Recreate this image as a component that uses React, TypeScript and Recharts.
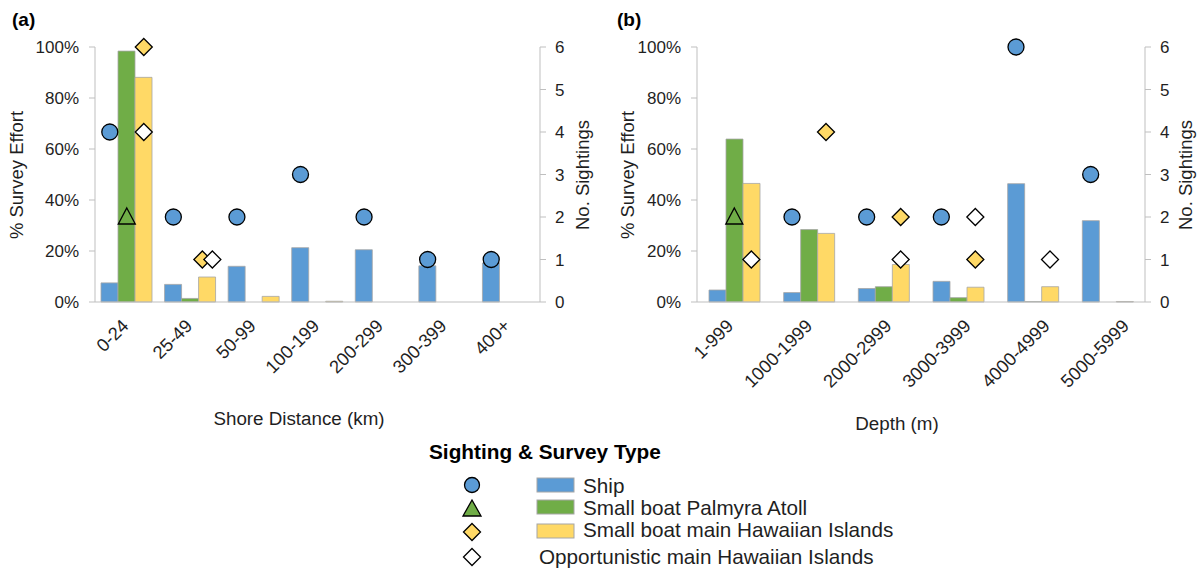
import React from 'react';
import { ComposedChart, Bar, Scatter, XAxis, YAxis } from 'recharts';

// (a) shore distance bins
const shoreBins = ['0-24', '25-49', '50-99', '100-199', '200-299', '300-399', '400+'];
const shoreShipEffort = [7.5, 6.9, 14, 21.3, 20.5, 14.2, 15.3];
const shorePalmyraEffort = [98.4, 1.4, 0, 0, 0, 0, 0];
const shoreMhiEffort = [88.1, 9.8, 2.2, 0.3, 0, 0, 0];
const shoreShipSightings = [4, 2, 2, 3, 2, 1, 1];
const shorePalmyraSightings = [2, null, null, null, null, null, null];
const shoreMhiSightings = [6, 1, null, null, null, null, null];
const shoreOppSightings = [4, 1, null, null, null, null, null];

// (b) depth bins
const depthBins = ['1-999', '1000-1999', '2000-2999', '3000-3999', '4000-4999', '5000-5999'];
const depthShipEffort = [4.7, 3.7, 5.3, 8.1, 46.4, 31.9];
const depthPalmyraEffort = [63.9, 28.4, 6.0, 1.7, 0.2, 0];
const depthMhiEffort = [46.5, 26.9, 14.7, 5.8, 6.0, 0.2];
const depthShipSightings = [null, 2, 2, 2, 6, 3];
const depthPalmyraSightings = [2, null, null, null, null, null];
const depthMhiSightings = [null, 4, 2, 1, null, null];
const depthOppSightings = [1, null, 1, 2, 1, null];

const effortTicks = [0, 20, 40, 60, 80, 100];
const sightingTicks = [0, 1, 2, 3, 4, 5, 6];

const BLUE = '#5B9BD5';
const GREEN = '#70AD47';
const YELLOW = '#FFD966';
const AXIS = '#bfbfbf';
const INK = '#1f1f1f';
const FONT = '"Liberation Sans", Arial, sans-serif';
const BAR_W = 17;

function buildRows(bins: string[], e1: number[], e2: number[], e3: number[],
  s1: (number | null)[], s2: (number | null)[], s3: (number | null)[], s4: (number | null)[]) {
  return bins.map((name, i) => ({
    name,
    ship: e1[i], palmyra: e2[i], mhi: e3[i],
    sShip: s1[i], sPalmyra: s2[i], sMhi: s3[i], sOpp: s4[i],
  }));
}

const shoreRows = buildRows(shoreBins, shoreShipEffort, shorePalmyraEffort, shoreMhiEffort,
  shoreShipSightings, shorePalmyraSightings, shoreMhiSightings, shoreOppSightings);
const depthRows = buildRows(depthBins, depthShipEffort, depthPalmyraEffort, depthMhiEffort,
  depthShipSightings, depthPalmyraSightings, depthMhiSightings, depthOppSightings);

function Glyph({ kind, x, y, big }: { kind: string; x: number; y: number; big?: boolean }) {
  if (kind === 'circle') return <circle cx={x} cy={y} r={big ? 8 : 7.5} fill={BLUE} stroke="#000" strokeWidth={1.3} />;
  if (kind === 'triangle') {
    const w = big ? 8.5 : 9;
    return <polygon points={`${x},${y - 9} ${x + w},${y + 7} ${x - w},${y + 7}`} fill={GREEN} stroke="#000" strokeWidth={1.3} />;
  }
  const fill = kind === 'diamond' ? YELLOW : '#fff';
  return <polygon points={`${x},${y - 8.5} ${x + 8.5},${y} ${x},${y + 8.5} ${x - 8.5},${y}`} fill={fill} stroke="#000" strokeWidth={1.3} />;
}

// scatter marker sitting over its matching bar
const marker = (kind: string, key: string, slot: number) => (props: any) => {
  const { cx, cy, payload } = props;
  if (!payload || payload[key] == null || cx == null || cy == null) return <g />;
  let dx = slot * BAR_W;
  if (payload.sMhi != null && payload.sMhi === payload.sOpp) {
    if (key === 'sMhi') dx -= 5;
    if (key === 'sOpp') dx += 5;
  }
  return <Glyph kind={kind} x={cx + dx} y={cy} big />;
};

const xTick = (base: number, drift: number) => (props: any) => {
  const { x, y, payload, index } = props;
  return (
    <g transform={`translate(${x + base + drift * index},${y + 25})`}>
      <text textAnchor="end" transform="rotate(-45)" fontSize={18.3} fill={INK} fontFamily={FONT}>
        {payload.value}
      </text>
    </g>
  );
};

function Panel({ rows, width, leftW, rightMargin, base, drift }: any) {
  return (
    <ComposedChart width={width} height={440} data={rows} barGap={0} barSize={BAR_W}
      margin={{ top: 47, right: rightMargin, left: 0, bottom: 0 }}>
      <XAxis dataKey="name" height={138} stroke={AXIS} tickLine={false} tickSize={0} tickMargin={0}
        interval={0} tick={xTick(base, drift)} />
      <YAxis yAxisId="left" width={leftW} domain={[0, 100]} ticks={effortTicks} stroke={AXIS}
        tickSize={6} tickMargin={10} tickFormatter={(v: number) => `${v}%`}
        tick={{ fontSize: 17, fill: INK, fontFamily: FONT }} />
      <YAxis yAxisId="right" orientation="right" width={50} domain={[0, 6]} ticks={sightingTicks}
        stroke={AXIS} tickSize={6} tickMargin={9}
        tick={{ fontSize: 17, fill: INK, fontFamily: FONT }} />
      <Bar yAxisId="left" dataKey="ship" fill={BLUE} stroke="#a6a6a6" strokeWidth={0.8} isAnimationActive={false} />
      <Bar yAxisId="left" dataKey="palmyra" fill={GREEN} stroke="#a6a6a6" strokeWidth={0.8} isAnimationActive={false} />
      <Bar yAxisId="left" dataKey="mhi" fill={YELLOW} stroke="#a6a6a6" strokeWidth={0.8} isAnimationActive={false} />
      <Scatter yAxisId="right" dataKey="sShip" shape={marker('circle', 'sShip', -1)} isAnimationActive={false} />
      <Scatter yAxisId="right" dataKey="sPalmyra" shape={marker('triangle', 'sPalmyra', 0)} isAnimationActive={false} />
      <Scatter yAxisId="right" dataKey="sMhi" shape={marker('diamond', 'sMhi', 1)} isAnimationActive={false} />
      <Scatter yAxisId="right" dataKey="sOpp" shape={marker('open', 'sOpp', 1)} isAnimationActive={false} />
    </ComposedChart>
  );
}

const legendItems = [
  { glyph: 'circle', color: BLUE, label: 'Ship' },
  { glyph: 'triangle', color: GREEN, label: 'Small boat Palmyra Atoll' },
  { glyph: 'diamond', color: YELLOW, label: 'Small boat main Hawaiian Islands' },
  { glyph: 'open', color: null, label: 'Opportunistic main Hawaiian Islands' },
];
const legendGlyphY = [485, 509, 532, 557];
const legendTextY = [493, 515, 537, 564];

export default function App() {
  return (
    <div style={{ position: 'relative', width: 1199, height: 574, background: '#fff', fontFamily: FONT }}>
      <style>{'body{margin:0}'}</style>
      <div style={{ position: 'absolute', left: 0, top: 0 }}>
        <Panel rows={shoreRows} width={600} leftW={95} rightMargin={10} base={3} drift={0} />
      </div>
      <div style={{ position: 'absolute', left: 600, top: 0 }}>
        <Panel rows={depthRows} width={599} leftW={97} rightMargin={4} base={0} drift={4.5} />
      </div>
      <svg width={1199} height={574} style={{ position: 'absolute', left: 0, top: 0, pointerEvents: 'none' }}
        fontFamily={FONT}>
        <text x={12} y={26} fontSize={19} fontWeight="bold" fill="#000">(a)</text>
        <text x={617} y={26} fontSize={19} fontWeight="bold" fill="#000">(b)</text>

        <text transform="translate(23,175) rotate(-90)" textAnchor="middle" fontSize={18.5} fill={INK}>% Survey Effort</text>
        <text transform="translate(589,175) rotate(-90)" textAnchor="middle" fontSize={18.5} fill={INK}>No. Sightings</text>
        <text x={299} y={425} textAnchor="middle" fontSize={18.8} fill={INK}>Shore Distance (km)</text>

        <text transform="translate(634,175) rotate(-90)" textAnchor="middle" fontSize={18.5} fill={INK}>% Survey Effort</text>
        <text transform="translate(1192,175) rotate(-90)" textAnchor="middle" fontSize={18.5} fill={INK}>No. Sightings</text>
        <text x={897} y={430} textAnchor="middle" fontSize={18.8} fill={INK}>Depth (m)</text>

        <text x={429} y={459} fontSize={20.8} fontWeight="bold" fill="#000">Sighting &amp; Survey Type</text>
        {legendItems.map((it, i) => (
          <g key={it.label}>
            <Glyph kind={it.glyph} x={472} y={legendGlyphY[i]} />
            {it.color && (
              <rect x={537} y={legendGlyphY[i] + (i === 0 ? -7 : i === 1 ? -9 : -8)} width={37} height={14}
                fill={it.color} stroke="#a6a6a6" strokeWidth={1} />
            )}
            <text x={it.color ? 583 : 539} y={legendTextY[i]} fontSize={20.7} fill={INK}>{it.label}</text>
          </g>
        ))}
      </svg>
    </div>
  );
}
